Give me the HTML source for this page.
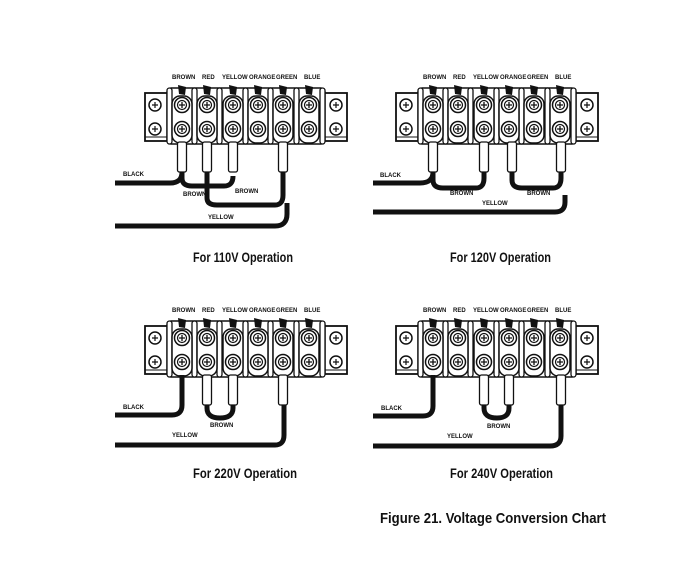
<!DOCTYPE html>
<html><head><meta charset="utf-8"><style>
body{margin:0;background:#fff}
svg{display:block}
text{font-family:"Liberation Sans",sans-serif;fill:#111;stroke:none}
.l{font-size:6px;font-weight:bold}
.t{font-size:14px;font-weight:bold}
</style></head><body>
<svg width="696" height="564" viewBox="0 0 696 564" xmlns="http://www.w3.org/2000/svg">
<defs>
<g id="term">
 <rect x="-10" y="-9" width="20" height="47" rx="8" fill="#fff" stroke="#111" stroke-width="1.5"/>
 <circle cx="0" cy="0" r="7.5" fill="#fff" stroke="#111" stroke-width="1.5"/>
 <circle cx="0" cy="0" r="4.5" fill="none" stroke="#111" stroke-width="1.2"/>
 <path d="M-3 0H3M0 -3V3" stroke="#111" stroke-width="1.3"/>
 <circle cx="0" cy="24" r="7.5" fill="#fff" stroke="#111" stroke-width="1.5"/>
 <circle cx="0" cy="24" r="4.5" fill="none" stroke="#111" stroke-width="1.2"/>
 <path d="M-3 24H3M0 21V27" stroke="#111" stroke-width="1.3"/>
 <path d="M-4 -20 L4 -18 L3 -10 L-3 -11 Z" fill="#111" stroke="none"/>
</g>
<g id="blk" stroke-width="1.5">
 <rect x="145" y="93" width="202" height="48" fill="#fff" stroke="#111" stroke-width="1.8"/>
 <line x1="145" y1="137" x2="347" y2="137" stroke="#111" stroke-width="1"/>
 <rect x="167" y="88" width="158" height="56" rx="4" fill="#fff" stroke="#111" stroke-width="1.5"/>
 <circle cx="155" cy="105" r="6" fill="#fff" stroke="#111" stroke-width="1.5"/>
 <path d="M152 105H158M155 102V108" stroke="#111" stroke-width="1.2"/>
 <circle cx="155" cy="129" r="6" fill="#fff" stroke="#111" stroke-width="1.5"/>
 <path d="M152 129H158M155 126V132" stroke="#111" stroke-width="1.2"/>
 <circle cx="336" cy="105" r="6" fill="#fff" stroke="#111" stroke-width="1.5"/>
 <path d="M333 105H339M336 102V108" stroke="#111" stroke-width="1.2"/>
 <circle cx="336" cy="129" r="6" fill="#fff" stroke="#111" stroke-width="1.5"/>
 <path d="M333 129H339M336 126V132" stroke="#111" stroke-width="1.2"/>
 <g stroke="#111" stroke-width="1.3" fill="#fff">
  <rect x="167" y="88" width="5" height="56" rx="2.5"/>
  <rect x="192" y="88" width="5" height="56" rx="2.5"/>
  <rect x="217" y="88" width="5" height="56" rx="2.5"/>
  <rect x="243" y="88" width="5" height="56" rx="2.5"/>
  <rect x="268" y="88" width="5" height="56" rx="2.5"/>
  <rect x="294" y="88" width="5" height="56" rx="2.5"/>
  <rect x="320" y="88" width="5" height="56" rx="2.5"/>
 </g>
 <use href="#term" x="182" y="105"/>
 <use href="#term" x="207" y="105"/>
 <use href="#term" x="233" y="105"/>
 <use href="#term" x="258" y="105"/>
 <use href="#term" x="283" y="105"/>
 <use href="#term" x="309" y="105"/>
 <text class="l" x="172" y="79">BROWN</text>
 <text class="l" x="202" y="79">RED</text>
 <text class="l" x="222" y="79">YELLOW</text>
 <text class="l" x="249" y="79">ORANGE</text>
 <text class="l" x="276" y="79">GREEN</text>
 <text class="l" x="304" y="79">BLUE</text>
</g>
<g id="lug"><rect x="-4.5" y="0" width="9" height="30" rx="2" fill="#fff" stroke="#111" stroke-width="1.3"/></g>
</defs>

<use href="#blk"/>
<use href="#blk" x="251"/>
<use href="#blk" y="233"/>
<use href="#blk" x="251" y="233"/>

<g fill="none" stroke="#111" stroke-width="5" stroke-linecap="butt">
<!-- 110V -->
<path d="M115 183 H170 Q182 183 182 172"/>
<path d="M182 172 V178 Q182 186 192 186 H224 Q233 186 233 176"/>
<path d="M207 172 V198 Q207 205 217 205 H275 Q283 205 283 195 V172"/>
<path d="M115 226 H275 Q287 226 287 214 V203"/>
<!-- 120V -->
<path d="M373 183 H420 Q433 183 433 172"/>
<path d="M433 172 V180 Q433 188 443 188 H476 Q484 188 484 178 V172"/>
<path d="M512 172 V180 Q512 188 522 188 H553 Q561 188 561 178 V172"/>
<path d="M373 212 H555 Q565 212 565 202 V195"/>
<!-- 220V -->
<path d="M115 415 H172 Q182 415 182 405 V375"/>
<path d="M207 405 V408 Q207 418 220 418 Q233 418 233 408 V405"/>
<path d="M115 445 H275 Q284 445 284 435 V405"/>
<!-- 240V -->
<path d="M373 416 H423 Q433 416 433 406 V375"/>
<path d="M484 405 V408 Q484 418 497 418 Q509 418 509 408 V405"/>
<path d="M373 446 H550 Q561 446 561 436 V405"/>
</g>

<use href="#lug" x="182" y="142"/><use href="#lug" x="207" y="142"/><use href="#lug" x="233" y="142"/><use href="#lug" x="283" y="142"/>
<use href="#lug" x="433" y="142"/><use href="#lug" x="484" y="142"/><use href="#lug" x="512" y="142"/><use href="#lug" x="561" y="142"/>
<use href="#lug" x="207" y="375"/><use href="#lug" x="233" y="375"/><use href="#lug" x="283" y="375"/>
<use href="#lug" x="484" y="375"/><use href="#lug" x="509" y="375"/><use href="#lug" x="561" y="375"/>

<text class="l" x="123" y="176">BLACK</text>
<text class="l" x="183" y="196">BROWN</text>
<text class="l" x="235" y="193">BROWN</text>
<text class="l" x="208" y="219">YELLOW</text>
<text class="l" x="380" y="177">BLACK</text>
<text class="l" x="450" y="195">BROWN</text>
<text class="l" x="527" y="195">BROWN</text>
<text class="l" x="482" y="205">YELLOW</text>
<text class="l" x="123" y="409">BLACK</text>
<text class="l" x="210" y="427">BROWN</text>
<text class="l" x="172" y="437">YELLOW</text>
<text class="l" x="381" y="410">BLACK</text>
<text class="l" x="487" y="428">BROWN</text>
<text class="l" x="447" y="438">YELLOW</text>

<text class="t" x="193" y="262" textLength="100" lengthAdjust="spacingAndGlyphs">For 110V Operation</text>
<text class="t" x="450" y="262" textLength="101" lengthAdjust="spacingAndGlyphs">For 120V Operation</text>
<text class="t" x="193" y="478" textLength="104" lengthAdjust="spacingAndGlyphs">For 220V Operation</text>
<text class="t" x="450" y="478" textLength="103" lengthAdjust="spacingAndGlyphs">For 240V Operation</text>
<text class="t" x="380" y="523" textLength="226" lengthAdjust="spacingAndGlyphs" style="font-size:15px">Figure 21.  Voltage Conversion Chart</text>
</svg>
</body></html>
